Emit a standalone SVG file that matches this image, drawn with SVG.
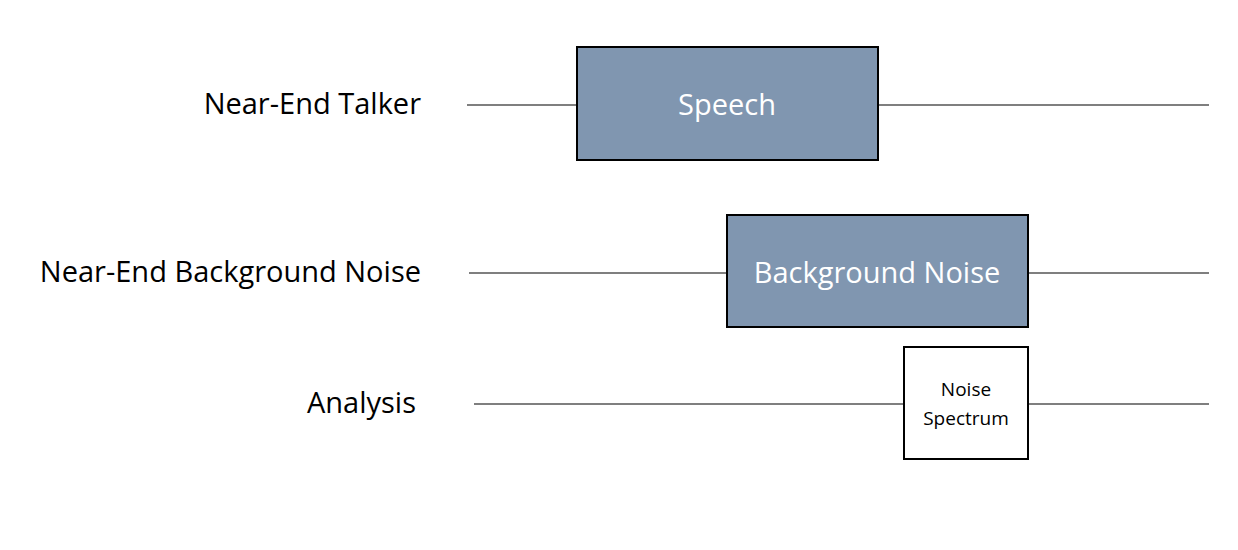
<svg xmlns="http://www.w3.org/2000/svg" width="1238" height="550" viewBox="0 0 1238 550">
<style>
.lbl{font-family:"Open Sans","Liberation Sans",sans-serif;font-size:29px;fill:#000}
.box{fill:#8096b0;stroke:#000;stroke-width:2}
.wbox{fill:#fff;stroke:#000;stroke-width:2}
.bt{font-family:"Open Sans","Liberation Sans",sans-serif;font-size:29px;fill:#fff;text-anchor:middle}
.st{font-family:"Open Sans","Liberation Sans",sans-serif;font-size:19px;fill:#000;text-anchor:middle}
line{stroke:#555;stroke-width:1.5}
</style>
<rect width="1238" height="550" fill="#fff"/>
<text class="lbl" x="421" y="114" text-anchor="end">Near-End Talker</text>
<text class="lbl" x="421" y="282" text-anchor="end">Near-End Background Noise</text>
<text class="lbl" x="416" y="413" text-anchor="end">Analysis</text>
<g id="connectors">
<line x1="467" y1="105" x2="577" y2="105"/><line x1="878" y1="105" x2="1209" y2="105"/>
<line x1="469" y1="273" x2="727" y2="273"/><line x1="1028" y1="273" x2="1209" y2="273"/>
<line x1="474" y1="404" x2="904" y2="404"/><line x1="1028" y1="404" x2="1209" y2="404"/>
</g>
<g id="speech"><rect class="box" x="577" y="47" width="301" height="113"/><text class="bt" x="727" y="115">Speech</text></g>
<g id="noise"><rect class="box" x="727" y="215" width="301" height="112"/><text class="bt" x="877" y="283">Background Noise</text></g>
<g id="spectrum"><rect class="wbox" x="904" y="347" width="124" height="112"/><text class="st" x="966" y="396">Noise</text><text class="st" x="966" y="425">Spectrum</text></g>
</svg>
